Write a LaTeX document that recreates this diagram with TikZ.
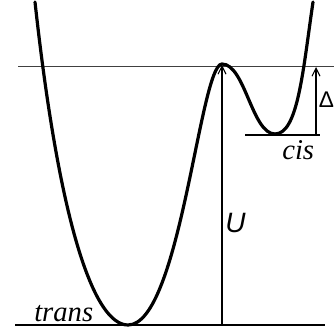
\documentclass[tikz,border=0pt]{standalone}
\usepackage{fontspec}
\setmainfont{Liberation Serif}
\newfontfamily\sansU{Liberation Sans}
\usetikzlibrary{arrows.meta}
\begin{document}
\begin{tikzpicture}[x=0.75pt,y=-0.75pt,
  thinline/.style={line width=0.7pt,draw=black!75},
  curveline/.style={line width=2.4pt,line cap=round},
  uparrow/.style={line width=0.9pt,-{Straight Barb[length=6pt,width=6pt,line width=0.8pt]}},
  lbl/.style={inner sep=0pt,font=\fontsize{21.5}{21.5}\selectfont\itshape}]
\useasboundingbox (0,0) rectangle (334,335);
% key points
\coordinate (top) at (35,2);
\coordinate (tmin) at (128,325);
\coordinate (bar) at (222,64);
\coordinate (cmin) at (275,134);
\coordinate (end) at (313,2);
\coordinate (b0) at (15,325);
\coordinate (b1) at (325,325);
\coordinate (t0) at (18,66);
\coordinate (t1) at (334,66);
\coordinate (c0) at (245,135);
\coordinate (c1) at (320,135);
\coordinate (ubase) at (222,325);
\coordinate (utop) at (222,65);
\coordinate (dbase) at (316,135);
\coordinate (dtop) at (316,67);
% reference lines
\draw[thinline] (t0) -- (t1);
\draw[line width=1.5pt] (b0) -- (b1);
\draw[line width=0.8pt] (c0) -- (c1);
% arrows
\draw[uparrow] (ubase) -- (utop);
\draw[uparrow] (dbase) -- (dtop);
% potential curve
\draw[curveline] (top) .. controls (60,230) and (95,325) .. (tmin)
  .. controls (180,325) and (200,64) .. (bar)
  .. controls (245,64) and (252,134) .. (cmin)
  .. controls (298,134) and (303,70) .. (end);
% labels
\node[lbl,anchor=base west] (trans) at (34,321) {trans};
\node[lbl,anchor=base west] (cis) at (282,159) {cis};
\node[inner sep=0pt,anchor=base west,font=\sansU\fontsize{21}{21}\selectfont\itshape] (U) at (225,232) {U};
\node[inner sep=0pt,anchor=base west,font=\sansU\fontsize{17}{17}\selectfont] (D) at (318.5,107) {Δ};
\end{tikzpicture}
\end{document}
